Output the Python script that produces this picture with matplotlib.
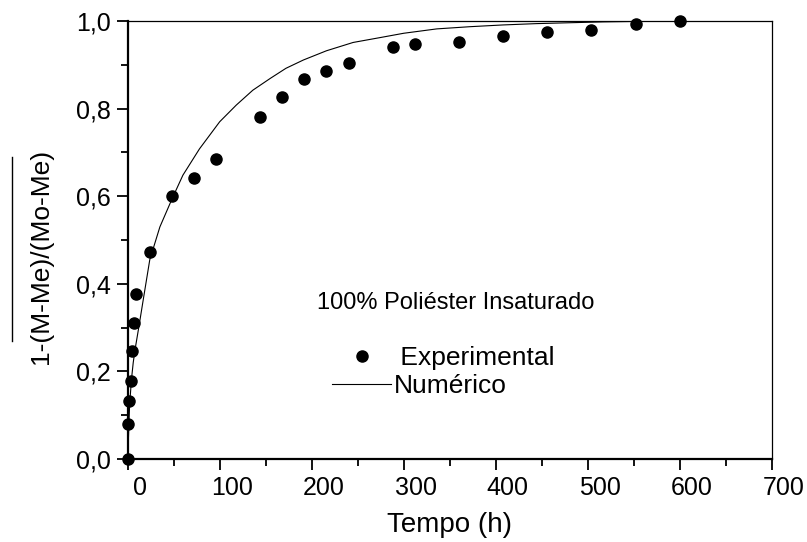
import matplotlib
matplotlib.use("Agg")
import matplotlib.pyplot as plt
from matplotlib.lines import Line2D
from matplotlib.ticker import MultipleLocator, FuncFormatter
from matplotlib.transforms import ScaledTranslation

plt.rcParams['font.family'] = ['Liberation Sans', 'DejaVu Sans']

# experimental points
exp_t = [0, 0.8, 1.8, 3.2, 5, 6.5, 8.5, 24, 48, 72, 96, 144, 168, 192, 216, 240,
         288, 312, 360, 408, 456, 504, 552, 600]
exp_y = [0.0, 0.081, 0.133, 0.179, 0.247, 0.311, 0.377, 0.473, 0.600, 0.642, 0.686,
         0.781, 0.826, 0.867, 0.885, 0.903, 0.941, 0.947, 0.951, 0.966, 0.974,
         0.979, 0.994, 1.0]

# numerical solution curve
num_t = [0, 2, 4, 6, 8, 12, 17, 24, 35, 48, 60, 78, 100, 118, 136, 155, 172, 191,
         216, 245, 274, 300, 336, 372, 408, 444, 480, 517, 552]
num_y = [0.0, 0.12, 0.18, 0.22, 0.25, 0.30, 0.365, 0.455, 0.53, 0.593, 0.648, 0.708,
         0.77, 0.808, 0.842, 0.869, 0.892, 0.911, 0.932, 0.951, 0.962, 0.972, 0.982,
         0.987, 0.991, 0.994, 0.996, 0.998, 0.999]

x_ticks = [0, 100, 200, 300, 400, 500, 600, 700]
y_ticks = [0.0, 0.2, 0.4, 0.6, 0.8, 1.0]

W, H = 807, 542
fig = plt.figure(figsize=(W / 100, H / 100), dpi=100)
ax = fig.add_axes([127.7 / W, 1 - 459 / H, (771.7 - 127.7) / W, (459 - 21) / H])

ax.plot(num_t, num_y, '-', color='black', lw=0.8, label='Numérico')
ax.plot(exp_t, exp_y, 'o', color='black', ms=8, ls='none', clip_on=False,
        label=' Experimental', zorder=3)

ax.set_xlim(0, 700)
ax.set_ylim(0, 1.0)
ax.set_xticks(x_ticks)
ax.set_yticks(y_ticks)
ax.xaxis.set_minor_locator(MultipleLocator(50))
ax.yaxis.set_minor_locator(MultipleLocator(0.1))
ax.yaxis.set_major_formatter(FuncFormatter(lambda v, p: f"{v:.1f}".replace('.', ',')))
ax.tick_params(which='both', direction='out', top=False, right=False, labelsize=18,
               width=1.3, color='black')
ax.tick_params(which='major', length=8, pad=4)
ax.tick_params(which='minor', length=5)

for s in ['left', 'bottom']:
    ax.spines[s].set_linewidth(1.6)
for s in ['top', 'right']:
    ax.spines[s].set_linewidth(0.9)

# origin-style: x tick labels sit a bit right of their ticks
off = ScaledTranslation(12 / 100, 0, fig.dpi_scale_trans)
for lab in ax.get_xticklabels():
    lab.set_transform(lab.get_transform() + off)

ax.set_xlabel('Tempo (h)', fontsize=20, labelpad=9)

fig.text(41.5 / W, 1 - 256.7 / H, '1-(M-Me)/(Mo-Me)', rotation=90,
         ha='center', va='center', fontsize=19)
fig.add_artist(Line2D([12.1 / W, 12.1 / W], [1 - 157 / H, 1 - 341 / H],
                      transform=fig.transFigure, color='black', lw=1))

fig.text(456 / W, 1 - 303 / H, '100% Poliéster Insaturado', ha='center',
         va='center', fontsize=17)

handles, labels = ax.get_legend_handles_labels()
ax.legend(handles[::-1], labels[::-1], loc='center left',
          bbox_to_anchor=(332 / W, 1 - 372 / H), bbox_transform=fig.transFigure,
          frameon=False, fontsize=19, handlelength=2.25, handletextpad=0.08,
          labelspacing=0.15, borderpad=0, borderaxespad=0)

fig.savefig('out.png', dpi=100)
